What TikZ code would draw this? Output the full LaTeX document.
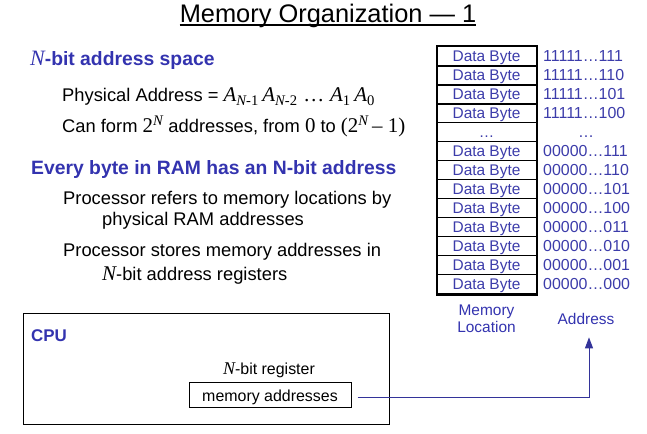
\documentclass[tikz,border=0pt]{standalone}
\usepackage{fontspec}
\setmainfont{Liberation Sans}
\newfontfamily\tms{Liberation Serif}
\newcommand\mi[1]{{\tms\itshape #1}}
\newcommand\mr[1]{{\tms #1}}
\usetikzlibrary{arrows.meta}
\definecolor{hblue}{RGB}{51,51,175}
\definecolor{dblue}{RGB}{60,60,170}
\definecolor{ablue}{RGB}{51,51,153}
\begin{document}
\begin{tikzpicture}[x=1bp,y=-1bp,
  txt/.style={inner sep=0pt, anchor=base west, font=\fontsize{18.4}{20}\selectfont},
  head/.style={inner sep=0pt, anchor=base west, text=hblue, font=\fontsize{19.4}{21}\selectfont\bfseries},
  cell/.style={draw, line width=1bp, minimum width=99bp, minimum height=19bp, inner sep=0pt,
    text height=11bp, text depth=0pt, text=dblue, font=\fontsize{15.5}{17}\selectfont},
  addr/.style={inner sep=0pt, anchor=base west, text=dblue, font=\fontsize{16}{17}\selectfont},
  lbl/.style={inner sep=0pt, text=hblue, font=\fontsize{15.5}{17}\selectfont, align=center}]
\useasboundingbox (0,0) rectangle (647,434);

% title
\node[inner sep=0pt, anchor=base, font=\fontsize{25.5}{28}\selectfont] (title) at (328,23) {Memory Organization — 1};
\draw[line width=1.2bp] ([yshift=-2bp]title.base west) -- ([yshift=-2bp]title.base east);

% left text
\node[head] (h1) at (30,66) {\mi{\mdseries\fontsize{22}{22}\selectfont N}-bit address space};
\node[txt] (t1) at (62,102) {Physical Address = \fontsize{21}{22}\selectfont
  \mi{A}\textsubscript{\mi{N}\mr{-1}}\,\mi{A}\textsubscript{\mi{N}\mr{-2}} \mr{…} \mi{A}\textsubscript{\mr{1}}\,\mi{A}\textsubscript{\mr{0}}};
\node[txt] (t2) at (62,133) {Can form {\fontsize{21}{22}\selectfont\mr{2}\textsuperscript{\mi{N}}} addresses, from {\fontsize{21}{22}\selectfont\mr{0}} to {\fontsize{21}{22}\selectfont\mr{(2\textsuperscript{\itshape N}\,– 1)}}};
\node[head] (h2) at (31,175) {Every byte in RAM has an N-bit address};
\node[txt] (t3) at (63,205) {Processor refers to memory locations by};
\node[txt] (t4) at (102,226) {physical RAM addresses};
\node[txt] (t5) at (63,257) {Processor stores memory addresses in};
\node[txt] (t6) at (102,281) {{\fontsize{21}{22}\selectfont\mi{N}}-bit address registers};

% memory table
\foreach \i/\a in {0/11111…111,1/11111…110,2/11111…101,3/11111…100,
                   5/00000…111,6/00000…110,7/00000…101,8/00000…100,
                   9/00000…011,10/00000…010,11/00000…001,12/00000…000}{
  \node[cell] (r\i) at (486.5,{56.5+19*\i}) {Data Byte};
  \node[addr] (a\i) at (543,{62+19*\i}) {\a};
}
\node[cell] (r4) at (486.5,{56.5+19*4}) {…};
\node[addr, anchor=base] (a4) at (586,{62+19*4}) {…};
\draw[line width=2bp] (r0.north west) rectangle (r12.south east);
\foreach \i in {0,1,2}{
  \draw[line width=2bp] (r\i.south west) -- (r\i.south east);
}
\node[lbl, anchor=north] (memloc) at (486.5,305) {Memory\\Location};
\node[lbl, anchor=base] (addrlbl) at (586,324) {Address};

% CPU
\node[draw, line width=1bp, minimum width=366bp, minimum height=111bp, anchor=north west, inner sep=0pt] (cpu) at (23,313) {};
\node[inner sep=0pt, anchor=base west, text=hblue, font=\fontsize{17}{19}\selectfont\bfseries] (cpulbl) at (31,341) {CPU};
\node[inner sep=0pt, anchor=base, font=\fontsize{16}{17}\selectfont] (nreg) at (269,374) {{\fontsize{18}{18}\selectfont\mi{N}}-bit register};
\node[draw, line width=1bp, minimum width=162bp, minimum height=25bp, inner sep=0pt,
  text height=13bp, text depth=0pt, font=\fontsize{16}{18}\selectfont] (reg) at (270,394.5) {memory addresses};

\draw[ablue, line width=1bp, -{Triangle[length=11bp,width=8bp]}, shorten <=6bp, shorten >=13bp]
  ([yshift=-2.5bp]reg.east) -| ([xshift=3bp]addrlbl.south);
\end{tikzpicture}
\end{document}
